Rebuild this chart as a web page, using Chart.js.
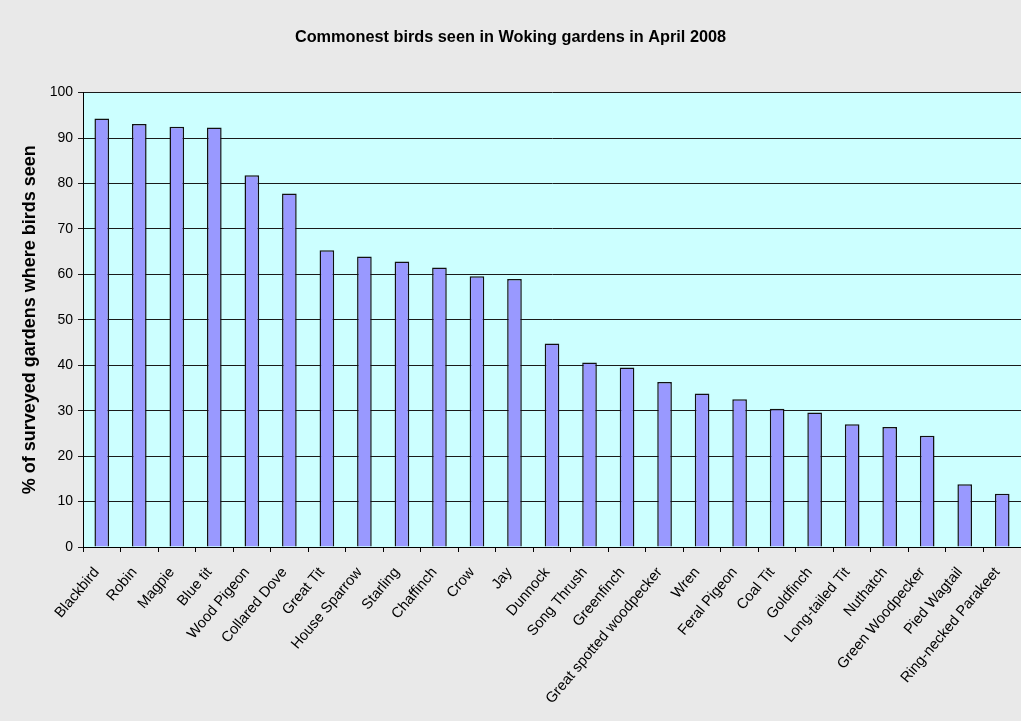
<!DOCTYPE html>
<html>
<head>
<meta charset="utf-8">
<script src="https://cdn.jsdelivr.net/npm/chart.js@4/dist/chart.umd.min.js"></script>
<style>
  html, body { margin: 0; padding: 0; background: #e9e9e9; }
  #wrap { width: 1021px; height: 721px; position: relative; }
</style>
</head>
<body>
<div id="wrap"><canvas id="c"></canvas></div>
<script>
const birds = [
  "Blackbird", "Robin", "Magpie", "Blue tit", "Wood Pigeon", "Collared Dove",
  "Great Tit", "House Sparrow", "Starling", "Chaffinch", "Crow", "Jay",
  "Dunnock", "Song Thrush", "Greenfinch", "Great spotted woodpecker", "Wren",
  "Feral Pigeon", "Coal Tit", "Goldfinch", "Long-tailed Tit", "Nuthatch",
  "Green Woodpecker", "Pied Wagtail", "Ring-necked Parakeet"
];
const percentSeen = [
  94.3, 93.1, 92.5, 92.3, 81.8, 77.8,
  65.3, 63.9, 62.8, 61.5, 59.6, 59.0,
  44.8, 40.6, 39.5, 36.3, 33.8,
  32.5, 30.4, 29.6, 27.0, 26.4,
  24.5, 13.8, 11.7
];

const FONT = "'Liberation Sans', Arial, sans-serif";

// page + plot area fills, drawn before the grid
const backdrop = {
  id: "backdrop",
  beforeDraw(chart) {
    const { ctx, chartArea: a } = chart;
    ctx.save();
    ctx.fillStyle = "#e9e9e9";
    ctx.fillRect(0, 0, chart.width, chart.height);
    ctx.fillStyle = "#ccffff";
    ctx.fillRect(a.left, a.top, a.right - a.left, a.bottom - a.top);
    ctx.restore();
  },
};

new Chart(document.getElementById("c"), {
  type: "bar",
  plugins: [backdrop],
  data: {
    labels: birds,
    datasets: [
      {
        data: percentSeen,
        backgroundColor: "#9999ff",
        borderColor: "#111111",
        borderWidth: 1.5,
        borderSkipped: "bottom",
        barPercentage: 0.39,
        categoryPercentage: 1,
      },
    ],
  },
  options: {
    responsive: true,
    maintainAspectRatio: false,
    animation: false,
    layout: { padding: 0 },
    plugins: {
      legend: { display: false },
      tooltip: { enabled: false },
      title: {
        display: true,
        text: "Commonest birds seen in Woking gardens in April 2008",
        color: "#000",
        font: { family: FONT, size: 16.3, weight: "bold" },
        padding: { top: 28, bottom: 45 },
      },
    },
    scales: {
      x: {
        afterFit(scale) {
          scale.height = 174;
          scale.paddingLeft = 0;
          scale.paddingRight = 0;
        },
        grid: {
          display: true,
          drawOnChartArea: false,
          drawTicks: true,
          tickLength: 5,
          color: "#000",
          offset: true,
        },
        border: { display: true, color: "#000", width: 1 },
        ticks: {
          autoSkip: false,
          minRotation: 50,
          maxRotation: 50,
          padding: 12,
          labelOffset: -5,
          color: "#000",
          font: { family: FONT, size: 14.7 },
        },
      },
      y: {
        min: 0,
        max: 100,
        afterFit(scale) {
          scale.width = 83;
        },
        grid: {
          color: "#1a1a1a",
          lineWidth: 1,
          drawTicks: true,
          tickLength: 5,
        },
        border: { display: true, color: "#000", width: 1 },
        ticks: {
          stepSize: 10,
          padding: 5,
          color: "#000",
          font: { family: FONT, size: 14 },
        },
        title: {
          display: true,
          text: "% of surveyed gardens where birds seen",
          color: "#000",
          font: { family: FONT, size: 18, weight: "bold" },
          padding: { top: 19, bottom: 0 },
        },
      },
    },
  },
});
</script>
</body>
</html>
